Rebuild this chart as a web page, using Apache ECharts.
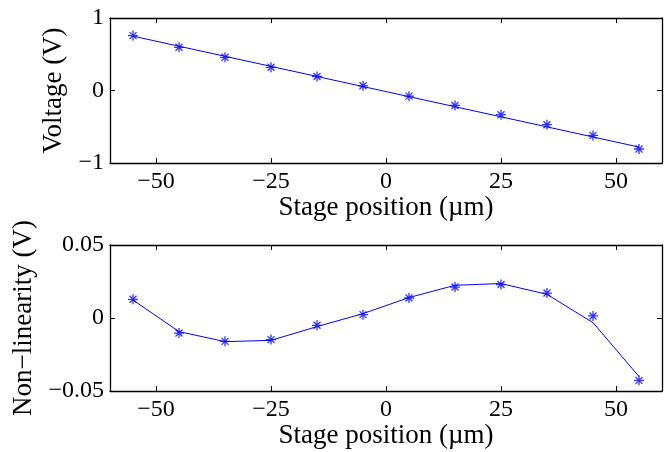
<!DOCTYPE html>
<html>
<head>
<meta charset="utf-8">
<script src="https://cdn.jsdelivr.net/npm/echarts@6/dist/echarts.min.js"></script>
<style>
  html, body { margin: 0; padding: 0; background: #fff; }
  #main { width: 672px; height: 452px; }
</style>
</head>
<body>
<div id="main"></div>
<script>
// stage positions (um) of the measured points
const positions = [-55, -45, -35, -25, -15, -5, 5, 15, 25, 35, 45, 55];
// measured voltage (V)
const voltage = [0.757, 0.596, 0.458, 0.32, 0.193, 0.065, -0.078, -0.206, -0.334, -0.472, -0.619, -0.807];
// straight fit line through the voltage points
const fitPositions = [-55, 55];
const fitVoltage = [0.75, -0.78];
// non-linearity markers and the joined line (V)
const nonlinMarkers = [0.0128, -0.0103, -0.016, -0.0148, -0.005, 0.0023, 0.0137, 0.0212, 0.0229, 0.0171, 0.0014, -0.0427];
const nonlinLine = [0.0123, -0.0093, -0.0162, -0.0153, -0.0059, 0.003, 0.014, 0.0224, 0.0236, 0.0162, -0.0032, -0.0401];
// tick labels
const xTicks = [-50, -25, 0, 25, 50];

let myChart = echarts.init(document.getElementById('main'));

const font = 'Liberation Serif';
const blue = '#0000ff';
const star = 'path://M0,-5L0,5M-5,0L5,0M-3.5,-3.5L3.5,3.5M-3.5,3.5L3.5,-3.5';
const minus = v => (v < 0 ? '\u2212' + String(Math.abs(v)) : String(v));

function xAxisPair(gridIndex) {
	let base = {
		gridIndex: gridIndex,
		type: 'value',
		min: -60,
		max: 60,
		splitLine: { show: false },
		axisLine: { show: true, onZero: false, lineStyle: { color: '#000', width: 1.3 } },
		axisTick: { show: true, inside: true, length: 5, customValues: xTicks, lineStyle: { color: '#000' } }
	};
	return [
		Object.assign({}, base, {
			position: 'bottom',
			name: 'Stage position (\u00b5m)',
			nameLocation: 'middle',
			nameGap: 30,
			nameTextStyle: { fontFamily: font, fontSize: 27, color: '#000' },
			axisLabel: { customValues: xTicks, formatter: minus, fontFamily: font, fontSize: 24, color: '#000', margin: 7 }
		}),
		Object.assign({}, base, { position: 'top', axisLabel: { show: false } })
	];
}

function yAxisPair(gridIndex, min, max, interval, name, gap) {
	let base = {
		gridIndex: gridIndex,
		type: 'value',
		min: min,
		max: max,
		interval: interval,
		splitLine: { show: false },
		axisLine: { show: true, onZero: false, lineStyle: { color: '#000', width: 1.3 } },
		axisTick: { show: true, inside: true, length: 5, lineStyle: { color: '#000' } }
	};
	return [
		Object.assign({}, base, {
			position: 'left',
			name: name,
			nameLocation: 'middle',
			nameGap: gap,
			nameTextStyle: { fontFamily: font, fontSize: 27, color: '#000' },
			axisLabel: { formatter: minus, fontFamily: font, fontSize: 24, color: '#000', margin: 6 }
		}),
		Object.assign({}, base, { position: 'right', axisLabel: { show: false } })
	];
}

const pairs = (xs, ys) => xs.map((x, i) => [x, ys[i]]);

let option = {
	animation: false,
	grid: [
		{ left: 110, right: 10, top: 18, height: 145 },
		{ left: 110, right: 10, top: 245, height: 146 }
	],
	xAxis: xAxisPair(0).concat(xAxisPair(1)),
	yAxis: yAxisPair(0, -1, 1, 1, 'Voltage (V)', 36).concat(yAxisPair(1, -0.05, 0.05, 0.05, 'Non\u2212linearity (V)', 70)),
	series: [
		{
			type: 'line',
			xAxisIndex: 0,
			yAxisIndex: 0,
			data: pairs(fitPositions, fitVoltage),
			showSymbol: false,
			lineStyle: { color: blue, width: 1 }
		},
		{
			type: 'scatter',
			xAxisIndex: 0,
			yAxisIndex: 0,
			data: pairs(positions, voltage),
			symbol: star,
			symbolSize: 10,
			itemStyle: { color: 'none', borderColor: blue, borderWidth: 1.3 }
		},
		{
			type: 'line',
			xAxisIndex: 2,
			yAxisIndex: 2,
			data: pairs(positions, nonlinLine),
			showSymbol: false,
			lineStyle: { color: blue, width: 1 }
		},
		{
			type: 'scatter',
			xAxisIndex: 2,
			yAxisIndex: 2,
			data: pairs(positions, nonlinMarkers),
			symbol: star,
			symbolSize: 10,
			itemStyle: { color: 'none', borderColor: blue, borderWidth: 1.3 }
		}
	]
};

myChart.setOption(option);
</script>
</body>
</html>
